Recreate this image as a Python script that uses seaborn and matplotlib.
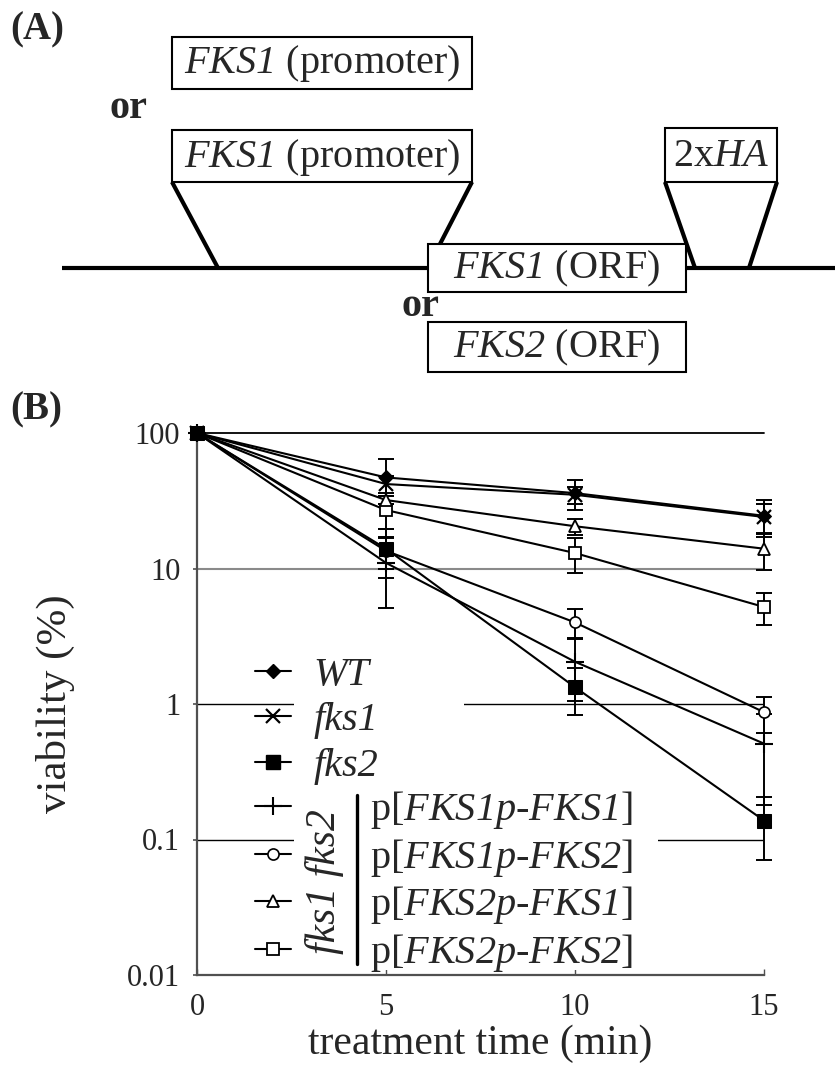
import numpy as np
import pandas as pd
import matplotlib
matplotlib.use("Agg")
import matplotlib.pyplot as plt
from matplotlib.patches import Rectangle
from matplotlib.lines import Line2D
import seaborn as sns

# ---------------- data ----------------
time_min = [0, 5, 10, 15]

wt = [100, 47, 36, 24.5]
wt_err = [0, 17, 9, 7.5]
fks1 = [100, 42, 35, 24]
fks1_err = [0, 6, 5, 6]
fks2 = [100, 14, 1.33, 0.138]
fks2_err = [0, 5.5, 0.5, 0.068]
p_fks1p_fks1 = [100, 11, 2.05, 0.51]
p_fks1p_fks1_err = [0, 5.9, 1.0, 0.33]
p_fks1p_fks2 = [100, 13.5, 4.0, 0.87]
p_fks1p_fks2_err = [0, 3.5, 1.0, 0.26]
p_fks2p_fks1 = [100, 32, 20.5, 14]
p_fks2p_fks1_err = [0, 2.0, 2.8, 4.2]
p_fks2p_fks2 = [100, 27, 13, 5.2]
p_fks2p_fks2_err = [0, 7.5, 3.8, 1.4]

y_ticks = [0.01, 0.1, 1, 10, 100]
y_tick_labels = ["0.01", "0.1", "1", "10", "100"]
x_ticks = [0, 5, 10, 15]

# ---------------- style ----------------
sns.set_theme(style="ticks")
plt.rcParams["font.family"] = ["Liberation Serif", "DejaVu Serif"]
# gene names are set fully in italics (digits included)
plt.rcParams["mathtext.fontset"] = "custom"
plt.rcParams["mathtext.rm"] = "Liberation Serif:italic"
plt.rcParams["mathtext.it"] = "Liberation Serif:italic"
plt.rcParams["mathtext.bf"] = "Liberation Serif:bold"

W, H = 835, 1066
fig = plt.figure(figsize=(W / 100, H / 100), dpi=100)
fig.patch.set_facecolor("white")

# ---------------- panel A: construct diagram ----------------
TOP_H = 384
ax_a = fig.add_axes([0, 1 - TOP_H / H, 1, TOP_H / H])
ax_a.set_xlim(0, W)
ax_a.set_ylim(TOP_H, 0)
ax_a.axis("off")

thick = 3.0
def box(x0, y0, x1, y1, label):
    ax_a.add_patch(Rectangle((x0, y0), x1 - x0, y1 - y0, facecolor="white",
                             edgecolor="black", lw=1.5, zorder=3))
    ax_a.text((x0 + x1) / 2, (y0 + y1) / 2 + 1, label, ha="center", va="center",
              fontsize=29, zorder=4)

def seg(xs, ys):
    ax_a.plot(xs, ys, color="black", lw=thick, solid_capstyle="butt", zorder=2)

seg([62, 835], [268, 268])
seg([172, 218], [182, 268])
seg([472, 440], [182, 244])
seg([665, 695], [182, 268])
seg([777, 749], [182, 268])

box(172, 37, 472, 89, r"$\mathit{FKS1}$ (promoter)")
box(172, 130, 472, 182, r"$\mathit{FKS1}$ (promoter)")
box(428, 244, 686, 292, r"$\mathit{FKS1}$ (ORF)")
box(428, 322, 686, 372, r"$\mathit{FKS2}$ (ORF)")
box(665, 128, 777, 182, r"2x$\mathit{HA}$")

ax_a.text(128, 108, "or", ha="center", va="center", fontsize=29, fontweight="bold")
ax_a.text(420, 307, "or", ha="center", va="center", fontsize=29, fontweight="bold")

fig.text(10 / W, 1 - 30 / H, "(A)", ha="left", va="center", fontsize=28, fontweight="bold")
fig.text(10 / W, 1 - 410 / H, "(B)", ha="left", va="center", fontsize=28, fontweight="bold")

# ---------------- panel B: viability curves ----------------
left, right, top, bottom = 197, 764, 433, 975
ax = fig.add_axes([left / W, 1 - bottom / H, (right - left) / W, (bottom - top) / H])
ax.set_facecolor("white")
ax.set_yscale("log")
ax.set_xlim(0, 15)
ax.set_ylim(0.01, 100)

# horizontal reference lines
ax.axhline(100, color="black", lw=1.3, zorder=0.5, clip_on=False)
ax.axhline(10, color="#8a8a8a", lw=1.5, zorder=0.5)
ax.axhline(1, color="black", lw=1.0, zorder=0.5)
ax.axhline(0.1, color="black", lw=1.0, zorder=0.5)

series = [
    ("WT", wt, wt_err, dict(marker="D", markersize=7, markerfacecolor="black")),
    ("fks1", fks1, fks1_err, dict(marker="x", markersize=10, markeredgewidth=1.6)),
    ("fks2", fks2, fks2_err, dict(marker="s", markersize=10, markerfacecolor="black")),
    ("FKS1p-FKS1", p_fks1p_fks1, p_fks1p_fks1_err, dict(marker="+", markersize=13, markeredgewidth=1.5)),
    ("FKS1p-FKS2", p_fks1p_fks2, p_fks1p_fks2_err, dict(marker="o", markersize=8, markerfacecolor="white", markeredgewidth=1.2)),
    ("FKS2p-FKS1", p_fks2p_fks1, p_fks2p_fks1_err, dict(marker="^", markersize=9, markerfacecolor="white", markeredgewidth=1.3)),
    ("FKS2p-FKS2", p_fks2p_fks2, p_fks2p_fks2_err, dict(marker="s", markersize=9, markerfacecolor="white", markeredgewidth=1.3)),
]

handles = []
n = len(series)
for i, (name, vals, errs, mstyle) in enumerate(series):
    df = pd.DataFrame({"time": time_min, "viability": vals})
    # earlier series are stacked on top so the filled markers stay visible
    z = 3 + (n - i) * 0.1
    sns.lineplot(data=df, x="time", y="viability", ax=ax, color="black",
                 linewidth=1.5, markeredgecolor="black", clip_on=False,
                 legend=False, zorder=z, **mstyle)
    ax.errorbar(time_min[1:], vals[1:], yerr=errs[1:], fmt="none", ecolor="black",
                elinewidth=1.4, capsize=5.5, capthick=1.4, zorder=2.5, clip_on=False)
    handles.append(Line2D([], [], color="black", linewidth=1.5,
                          markeredgecolor="black", **mstyle))

# axes styling
sns.despine(ax=ax)
for sp in ("left", "bottom"):
    ax.spines[sp].set_color("#505050")
    ax.spines[sp].set_linewidth(1.6)
ax.set_yticks(y_ticks)
ax.set_yticklabels(y_tick_labels)
ax.yaxis.set_minor_locator(matplotlib.ticker.NullLocator())
ax.set_xticks(x_ticks)
ax.set_xticklabels([str(t) for t in x_ticks])
ax.tick_params(axis="y", direction="out", length=3, width=1.2, color="#505050",
               labelsize=22, pad=9)
ax.tick_params(axis="x", direction="in", length=4, width=1.0, color="#505050",
               labelsize=22, pad=13)
ax.set_xlabel("treatment time (min)", fontsize=30, labelpad=2)
ax.set_ylabel("viability (%)", fontsize=31)
ax.yaxis.set_label_coords(-0.215, 0.5)

# white masks behind the legend text so reference lines break there
fx = lambda px: (px - left) / (right - left)
fy = lambda py: (bottom - py) / (bottom - top)
ax.add_patch(Rectangle((fx(294), fy(785)), fx(464) - fx(294), fy(650) - fy(785),
                       transform=ax.transAxes, facecolor="white", edgecolor="none", zorder=1))
ax.add_patch(Rectangle((fx(294), fy(970)), fx(658) - fx(294), fy(785) - fy(970),
                       transform=ax.transAxes, facecolor="white", edgecolor="none", zorder=1))

legend_kw = dict(frameon=False, borderpad=0, borderaxespad=0, handlelength=0.9,
                 numpoints=1, loc="upper left")
leg1 = ax.legend(handles[:3], ["WT", "fks1", "fks2"], bbox_to_anchor=(fx(255), fy(657)),
                 prop=dict(style="italic", size=29), handletextpad=0.55,
                 labelspacing=0.2, **legend_kw)
ax.add_artist(leg1)
labels2 = [r"p[$\mathit{FKS1p}$-$\mathit{FKS1}$]", r"p[$\mathit{FKS1p}$-$\mathit{FKS2}$]",
           r"p[$\mathit{FKS2p}$-$\mathit{FKS1}$]", r"p[$\mathit{FKS2p}$-$\mathit{FKS2}$]"]
leg2 = ax.legend(handles[3:], labels2, bbox_to_anchor=(fx(255), fy(789)),
                 prop=dict(size=29), handletextpad=1.95, labelspacing=0.14, **legend_kw)

# group label for the double mutant rows
ax.text(fx(324), fy(882), "fks1 fks2", transform=ax.transAxes, rotation=90,
        ha="center", va="center", fontsize=30, style="italic")
ax.add_line(Line2D([fx(357), fx(357)], [fy(964), fy(795)], transform=ax.transAxes,
                   color="black", lw=2.4, clip_on=False))

fig.savefig("out.png", dpi=100, facecolor="white")
